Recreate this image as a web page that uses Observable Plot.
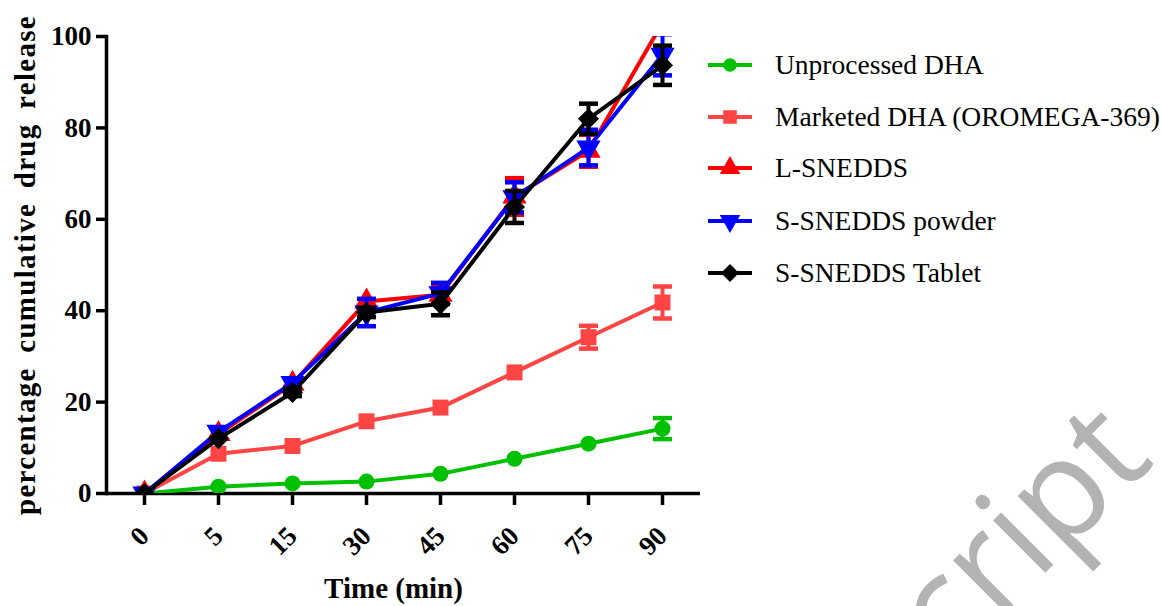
<!DOCTYPE html>
<html><head><meta charset="utf-8">
<script src="https://cdn.jsdelivr.net/npm/d3@7"></script>
<script src="https://cdn.jsdelivr.net/npm/@observablehq/plot@0.6"></script>
<style>
body{margin:0;background:#fff;}
#wrap{position:relative;width:1161px;height:606px;overflow:hidden;background:#fff;}
#wrap svg{display:block;}
.row{position:absolute;left:706px;height:40px;display:flex;align-items:center;white-space:nowrap;
  font-family:"Liberation Serif","Times New Roman",serif;font-size:27.5px;color:#000;}
#wm{position:absolute;left:0;top:0;pointer-events:none;}
g[aria-label="y-axis label"] text{font-size:29px;font-weight:bold;letter-spacing:1.3px;word-spacing:6px;}
g[aria-label="x-axis label"] text{font-size:29px;font-weight:bold;translate:-10px 0;}
</style></head>
<body>
<div id="wrap"></div>
<script>
// ---- data ----
const times = ["0","5","15","30","45","60","75","90"];
const seriesNames = ["Unprocessed DHA","Marketed DHA (OROMEGA-369)","L-SNEDDS","S-SNEDDS powder","S-SNEDDS Tablet"];
const colors = ["#00c000","#ff4444","#ff0000","#0000ff","#000000"];
const symbols = ["circle","square","triangle","triangle","diamond2"];
const rotations = [0,0,0,180,0];
const radii = [8,9,9,9,9.5];

const unprocessed   = [0, 1.5, 2.2, 2.6, 4.3, 7.6, 10.9, 14.2];
const unprocessedSD = [0, 0, 0, 0, 0, 0, 0, 2.3];
const marketed      = [0, 8.7, 10.4, 15.8, 18.8, 26.5, 34.2, 41.8];
const marketedSD    = [0, 0, 0, 0, 0, 0, 2.5, 3.5];
const lSnedds       = [0, 13, 24, 42, 43.5, 65, 75, 103];
const lSneddsSD     = [0, 0, 0, 0, 2, 4, 3.5, 0];
const powder        = [0, 13.5, 24.2, 39.6, 43.8, 64.8, 75.7, 96];
const powderSD      = [0, 0, 1, 3, 2.3, 3.3, 3.9, 4.5];
const tablet        = [0, 12, 22.1, 39.6, 41.5, 62.7, 82, 93.7];
const tabletSD      = [0, 0, 0.8, 1, 2.5, 3.5, 3.3, 4.3];

const yTicks = [0, 20, 40, 60, 80, 100];

const values = [unprocessed, marketed, lSnedds, powder, tablet];
const sds = [unprocessedSD, marketedSD, lSneddsSD, powderSD, tabletSD];

// horizontal error-bar cap symbol
const capSymbol = {draw(context) { context.rect(-9.5, -2.25, 19, 4.5); }};

const marks = [];
seriesNames.forEach((name, i) => {
  const data = times.map((t, j) => ({time: t, value: values[i][j], sd: sds[i][j]}));
  const err = data.filter(d => d.sd > 0);
  marks.push(Plot.line(data, {x: "time", y: "value", stroke: colors[i], strokeWidth: 4, clip: true}));
  marks.push(Plot.ruleX(err, {x: "time", y1: d => d.value - d.sd, y2: d => d.value + d.sd, stroke: colors[i], strokeWidth: 4, clip: true}));
  marks.push(Plot.dot(err, {x: "time", y: d => d.value + d.sd, symbol: capSymbol, fill: colors[i], stroke: "none", clip: true}));
  marks.push(Plot.dot(err, {x: "time", y: d => d.value - d.sd, symbol: capSymbol, fill: colors[i], stroke: "none", clip: true}));
  marks.push(Plot.dot(data, {x: "time", y: "value", symbol: symbols[i], r: radii[i], fill: colors[i], stroke: "none", rotate: rotations[i], clip: true}));
});

const chart = Plot.plot({
  width: 1161, height: 606,
  marginLeft: 106, marginRight: 461, marginTop: 36, marginBottom: 113,
  style: {fontFamily: "'Liberation Serif','Times New Roman',serif", color: "#000", background: "#fff", overflow: "visible"},
  x: {type: "point", domain: times, padding: 0.5},
  y: {domain: [0, 100]},
  marks: [
    Plot.ruleY([0], {stroke: "#000", strokeWidth: 3.5}),
    Plot.axisY({ticks: yTicks, tickSize: 10, tickPadding: 5, fontSize: 27, fontWeight: "bold", strokeWidth: 3.5,
      label: "percentage cumulative drug release", labelAnchor: "center", labelArrow: "none", labelOffset: 92}),
    Plot.frame({anchor: "left", stroke: "#000", strokeWidth: 3.5}),
    Plot.axisX({tickSize: 12, tickPadding: 26, tickRotate: -45, fontSize: 27, fontWeight: "bold", strokeWidth: 3.5,
      label: "Time (min)", labelAnchor: "center", labelArrow: "none", labelOffset: 104}),
    ...marks
  ]
});
const wrap = document.getElementById("wrap");
wrap.appendChild(chart);

// legend
const rowsY = [65, 117, 168, 221, 273];
seriesNames.forEach((name, i) => {
  const row = document.createElement("div");
  row.className = "row";
  row.style.top = (rowsY[i] - 20) + "px";
  const sym = {circle: d3.symbolCircle, square: d3.symbolSquare, triangle: d3.symbolTriangle, diamond2: d3.symbolDiamond2}[symbols[i]];
  const r = radii[i] * 0.85;
  const path = d3.symbol(sym, Math.PI * r * r)();
  row.innerHTML = `<svg width="69" height="40"><line x1="2" x2="46" y1="20" y2="20" stroke="${colors[i]}" stroke-width="4"/>` +
    `<path d="${path}" fill="${colors[i]}" transform="translate(24,20) rotate(${rotations[i]})"/></svg><span>${name}</span>`;
  wrap.appendChild(row);
});

// watermark
const wm = document.createElementNS("http://www.w3.org/2000/svg", "svg");
wm.setAttribute("id", "wm");
wm.setAttribute("width", 1161); wm.setAttribute("height", 606);
wm.innerHTML = `<text x="0" y="0" text-anchor="end" transform="translate(1156,462) rotate(-45)" fill="#b3b3b3" font-family="'Open Sans',sans-serif" font-size="138">Manuscript</text>`;
wrap.appendChild(wm);
</script>
</body></html>
